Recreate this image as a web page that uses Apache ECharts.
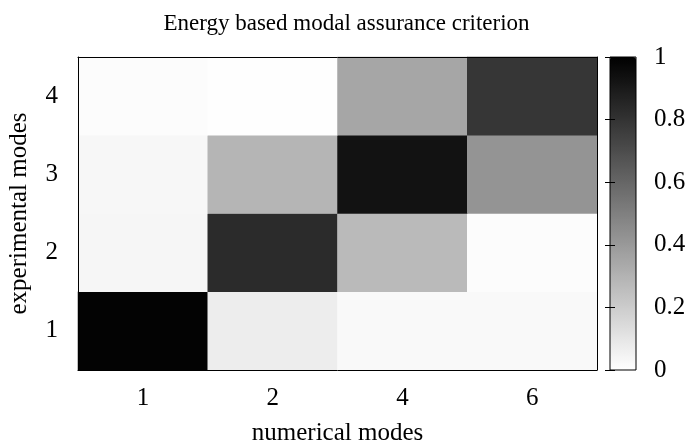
<!DOCTYPE html>
<html><head><meta charset="utf-8">
<script src="https://cdn.jsdelivr.net/npm/echarts@6/dist/echarts.min.js"></script>
<style>html,body{margin:0;padding:0;background:#fff}#c{width:693px;height:448px}</style>
</head><body><div id="c"></div>
<script>
var xCats = ['1', '2', '4', '6'];
var yCats = ['1', '2', '3', '4'];
var row1 = [0.99, 0.07, 0.025, 0.025];
var row2 = [0.035, 0.83, 0.27, 0.01];
var row3 = [0.03, 0.29, 0.93, 0.42];
var row4 = [0.01, 0.005, 0.35, 0.79];
var rows = [row1, row2, row3, row4];
var cbTicks = [0, 0.2, 0.4, 0.6, 0.8, 1];

var data = [];
rows.forEach(function (r, yi) { r.forEach(function (v, xi) { data.push([xi, yi, v]); }); });

var F = 'Liberation Serif';
var FS = 25;
var txt = { fontFamily: F, fontSize: FS, color: '#000' };
var chart = echarts.init(document.getElementById('c'));
chart.setOption({
  animation: false,
  backgroundColor: '#fff',
  title: { text: 'Energy based modal assurance criterion', left: 'center', top: 7,
    textStyle: { fontFamily: F, fontSize: 23, fontWeight: 'normal', color: '#000' } },
  grid: [
    { left: 78, right: 96, top: 57, bottom: 78, outerBoundsMode: 'none', containLabel: false },
    { left: 610, top: 57, width: 26, height: 313, outerBoundsMode: 'none', containLabel: false, show: true, borderColor: '#000', borderWidth: 1, backgroundColor: 'transparent', z: 10 }
  ],
  visualMap: { type: 'continuous', min: 0, max: 1, calculable: false, seriesIndex: 0,
    inRange: { color: ['#ffffff', '#000000'] }, orient: 'vertical', left: 610, top: 57,
    itemWidth: 26, itemHeight: 313, padding: 0, text: null, showLabel: false },
  xAxis: [
    { type: 'category', data: xCats, gridIndex: 0, z: 10, name: 'numerical modes', nameLocation: 'middle', nameGap: 51,
      nameTextStyle: txt, axisLabel: Object.assign({ margin: 16 }, txt), axisTick: { show: false },
      axisLine: { lineStyle: { color: '#000', width: 1 } }, splitLine: { show: false } },
    { type: 'category', data: xCats, gridIndex: 0, position: 'top', z: 10, axisLabel: { show: false }, axisTick: { show: false },
      axisLine: { show: true, lineStyle: { color: '#000', width: 1 } } },
    { type: 'value', gridIndex: 1, min: 0, max: 1, show: false }
  ],
  yAxis: [
    { type: 'category', data: yCats, gridIndex: 0, z: 10, name: 'experimental modes', nameLocation: 'middle', nameGap: 46,
      nameTextStyle: txt, axisLabel: Object.assign({ margin: 20 }, txt), axisTick: { show: false },
      axisLine: { lineStyle: { color: '#000', width: 1 } }, splitLine: { show: false } },
    { type: 'category', data: yCats, gridIndex: 0, position: 'right', z: 10, axisLabel: { show: false }, axisTick: { show: false },
      axisLine: { show: true, lineStyle: { color: '#000', width: 1 } } },
    { type: 'value', gridIndex: 1, min: 0, max: 1, interval: 0.2, position: 'right', z: 10,
      axisLine: { show: false }, splitLine: { show: false },
      axisTick: { show: true, inside: true, length: 5, lineStyle: { color: '#000' } },
      axisLabel: Object.assign({ margin: 18, formatter: function (v) { var r = Math.round(v * 10) / 10; return cbTicks.indexOf(r) >= 0 ? String(r) : ''; } }, txt) },
    { type: 'value', gridIndex: 1, min: 0, max: 1, interval: 0.2, position: 'left', z: 10,
      axisLine: { show: false }, splitLine: { show: false }, axisLabel: { show: false },
      axisTick: { show: true, inside: true, length: 5, lineStyle: { color: '#000' } } }
  ],
  series: [
    { type: 'heatmap', xAxisIndex: 0, yAxisIndex: 0, data: data, itemStyle: { borderWidth: 0 }, emphasis: { disabled: true } },
    { type: 'line', xAxisIndex: 2, yAxisIndex: 2, data: [], silent: true }
  ]
});
</script></body></html>
